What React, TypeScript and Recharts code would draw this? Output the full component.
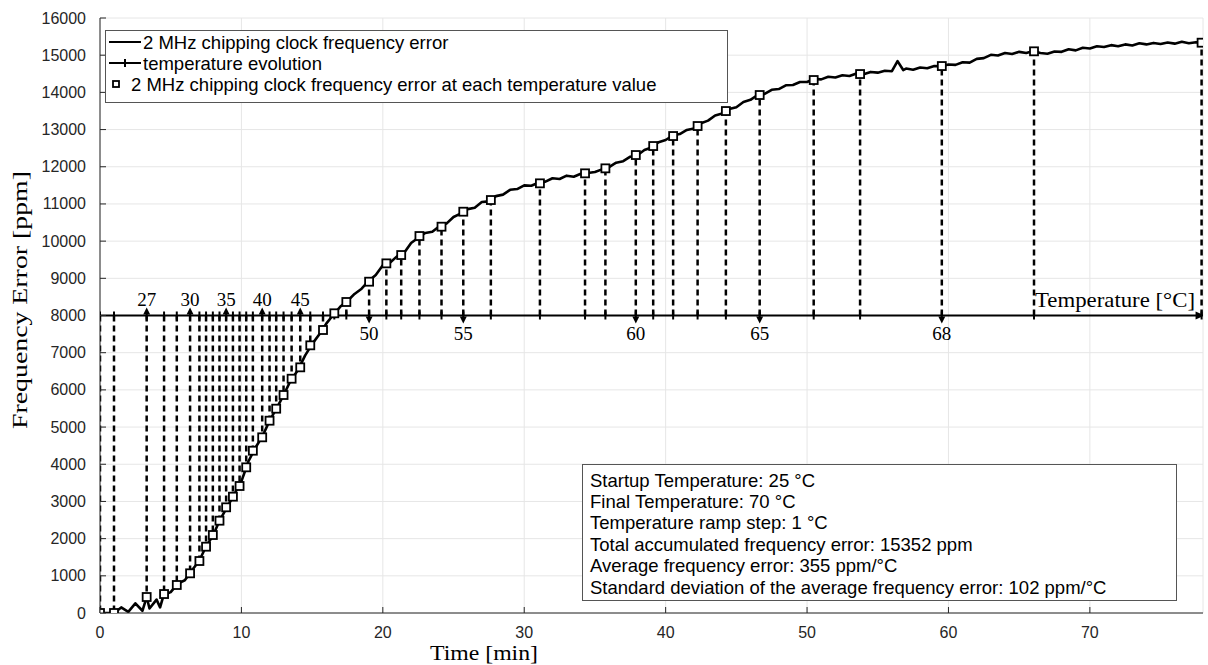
import React from "react";
import { ComposedChart, Line, Scatter, XAxis, YAxis, CartesianGrid } from "recharts";

// frequency error trace (min, ppm)
const timeMin = [
  0, 0.5, 1, 1.5, 2, 2.5, 3, 3.3, 3.5, 4, 4.25, 4.5, 5, 5.5, 6, 6.5, 7, 7.5, 8, 8.5, 9, 9.5,
  10, 10.5, 11, 11.5, 12, 12.5, 13, 13.5, 14, 14.5, 15, 15.5, 16, 16.5, 17, 17.5, 18, 18.5, 19, 19.5,
  20, 20.5, 21, 21.5, 22, 22.5, 23, 23.5, 24, 24.5, 25, 25.5, 26, 26.5, 27, 27.5, 28, 28.5, 29, 29.5,
  30, 30.5, 31, 31.5, 32, 32.5, 33, 33.5, 34, 34.5, 35, 35.5, 36, 36.5, 37, 37.5, 38, 38.5, 39, 39.5,
  40, 40.5, 41, 41.5, 42, 42.5, 43, 43.5, 44, 44.5, 45, 45.5, 46, 46.5, 47, 47.5, 48, 48.5, 49, 49.5,
  50, 50.5, 51, 51.5, 52, 52.5, 53, 53.5, 54, 54.5, 55, 55.5, 56, 56.4, 56.8, 57, 57.5, 58, 58.5, 59, 59.5,
  60, 60.5, 61, 61.5, 62, 62.5, 63, 63.5, 64, 64.5, 65, 65.5, 66, 66.5, 67, 67.5, 68, 68.5, 69, 69.5,
  70, 70.5, 71, 71.5, 72, 72.5, 73, 73.5, 74, 74.5, 75, 75.5, 76, 76.5, 77, 77.5, 78,
];
const freqPpm = [
  0, 0, 0, 150, 30, 260, 60, 430, 120, 360, 150, 480, 560, 790, 880, 1150, 1390, 1790, 2090, 2520, 2850, 3200,
  3540, 4080, 4450, 4760, 5180, 5510, 5870, 6270, 6530, 6920, 7230, 7490, 7780, 8020, 8240, 8390, 8580, 8720, 8930, 9090,
  9350, 9420, 9590, 9680, 9950, 10090, 10220, 10250, 10400, 10470, 10650, 10740, 10860, 10900, 11050, 11070, 11210, 11250, 11380, 11400,
  11500, 11490, 11570, 11600, 11690, 11670, 11760, 11730, 11810, 11830, 11860, 11930, 11990, 12110, 12150, 12270, 12310, 12450, 12520, 12660,
  12720, 12840, 12880, 12990, 13030, 13170, 13240, 13380, 13430, 13550, 13600, 13740, 13800, 13930, 13960, 14070, 14090, 14190, 14200, 14280,
  14280, 14360, 14350, 14420, 14400, 14460, 14440, 14510, 14490, 14550, 14530, 14580, 14570, 14840, 14600, 14640, 14610, 14670, 14650, 14710, 14700,
  14750, 14740, 14810, 14800, 14900, 14920, 15010, 14990, 15060, 15030, 15090, 15060, 15110, 15060, 15040, 15100, 15090, 15160, 15130, 15200,
  15180, 15240, 15220, 15270, 15240, 15290, 15260, 15320, 15290, 15330, 15300, 15340, 15310, 15360, 15320, 15350, 15330,
];

// temperature steps: when each one was reached and the error at that moment
const tempC = [
  25, 26, 27, 28, 29, 30, 31, 32, 33, 34, 35, 36, 37, 38, 39, 40, 41, 42, 43, 44, 45, 46, 47,
  48, 49, 50, 51, 52, 53, 54, 55, 56, 57, 58, 59, 60, 61, 62, 63, 64, 65, 66, 67, 68, 69, 70,
];
const tempTimeMin = [
  0, 0.99, 3.3, 4.53, 5.43, 6.37, 7.03, 7.5, 7.98, 8.45, 8.92, 9.4, 9.87, 10.34, 10.81, 11.47, 11.99, 12.46, 12.98, 13.55, 14.16, 14.87, 15.77,
  16.57, 17.42, 19.03, 20.25, 21.3, 22.59, 24.15, 25.69, 27.64, 31.11, 34.3, 35.74, 37.89, 39.12, 40.53, 42.26, 44.26, 46.65, 50.47, 53.75, 59.53, 66.05, 77.9,
];
const tempFreqPpm = [
  0, 0, 430, 510, 753, 1067, 1398, 1783, 2097, 2482, 2842, 3128, 3415, 3917, 4364, 4724, 5171, 5494, 5862, 6300, 6606, 7198, 7610,
  8059, 8363, 8909, 9402, 9626, 10137, 10388, 10791, 11105, 11554, 11823, 11957, 12315, 12557, 12826, 13095, 13498, 13929, 14332, 14493, 14708, 15104, 15336,
];
const labelsAbove = [27, 30, 35, 40, 45];
const labelsBelow = [50, 55, 60, 65, 68];
const tempAxisLevel = 8000;

const xTicks = [0, 10, 20, 30, 40, 50, 60, 70];
const yTicks = [0, 1000, 2000, 3000, 4000, 5000, 6000, 7000, 8000, 9000, 10000, 11000, 12000, 13000, 14000, 15000, 16000];

const legendItems = [
  "2 MHz chipping clock frequency error",
  "temperature evolution",
  "2 MHz chipping clock frequency error at each temperature value",
];
const statsLines = [
  "Startup Temperature: 25 °C",
  "Final Temperature: 70 °C",
  "Temperature ramp step: 1 °C",
  "Total accumulated frequency error: 15352 ppm",
  "Average frequency error: 355 ppm/°C",
  "Standard deviation of the average frequency error: 102 ppm/°C",
];

const curveData = timeMin.map((t, i) => ({ x: t, y: freqPpm[i] }));
const tempRows = tempTimeMin.map((t, i) => ({ x: t, y: tempAxisLevel, temp: tempC[i] }));
const squareRows = tempTimeMin.map((t, i) => ({ x: t, y: tempFreqPpm[i] }));

const AX = "#262626";
const SANS = "'Liberation Sans', Arial, sans-serif";
const SERIF = "'Liberation Serif', 'Times New Roman', serif";

function LeftTick({ x, y, payload }: any) {
  return (
    <g>
      <line x1={x} x2={x + 6} y1={y} y2={y} stroke={AX} />
      <text x={x - 14} y={y + 5.5} textAnchor="end" fontFamily={SANS} fontSize={16} fill={AX}>
        {payload.value}
      </text>
    </g>
  );
}

function RightTick({ x, y }: any) {
  return <line x1={x} x2={x - 6} y1={y} y2={y} stroke={AX} />;
}

function BottomTick({ x, y, payload }: any) {
  return (
    <g>
      <line x1={x} x2={x} y1={y} y2={y - 6} stroke={AX} />
      <text x={x} y={y + 25} textAnchor="middle" fontFamily={SANS} fontSize={16} fill={AX}>
        {payload.value}
      </text>
    </g>
  );
}

function TopTick({ x, y }: any) {
  return <line x1={x} x2={x} y1={y} y2={y + 6} stroke={AX} />;
}

function TempMark(props: any) {
  const { cx, cy, payload, index } = props;
  if (cx == null || cy == null) return <g key={`tm-${index}`} />;
  const t = payload.temp;
  const last = index === tempC.length - 1;
  return (
    <g key={`tm-${index}`}>
      <line x1={cx} x2={cx} y1={cy - 4} y2={cy + 4} stroke="#000" strokeWidth={2} />
      {labelsAbove.includes(t) && (
        <>
          <path d={`M${cx - 3.5},${cy - 1} L${cx + 3.5},${cy - 1} L${cx},${cy - 8} Z`} fill="#000" />
          <text x={cx} y={cy - 10} textAnchor="middle" fontFamily={SERIF} fontSize={19}>
            {t}
          </text>
        </>
      )}
      {labelsBelow.includes(t) && (
        <>
          <path d={`M${cx - 3.5},${cy + 1} L${cx + 3.5},${cy + 1} L${cx},${cy + 8} Z`} fill="#000" />
          <text x={cx} y={cy + 24} textAnchor="middle" fontFamily={SERIF} fontSize={19}>
            {t}
          </text>
        </>
      )}
      {last && <path d={`M${cx + 3},${cy} L${cx - 6},${cy - 4} L${cx - 6},${cy + 4} Z`} fill="#000" />}
    </g>
  );
}

function Square({ cx, cy }: any) {
  if (cx == null || cy == null) return <g />;
  return <rect x={cx - 4} y={cy - 4} width={8} height={8} fill="#fff" stroke="#000" strokeWidth={1.8} />;
}

function Overlay() {
  return (
    <svg width={1208} height={665} style={{ position: "absolute", left: 0, top: 0, pointerEvents: "none" }}>
      {/* legend */}
      <rect x={105.5} y={30.5} width={622} height={72} fill="#fff" stroke="#555" strokeWidth={1} />
      <line x1={109} x2={141} y1={42} y2={42} stroke="#000" strokeWidth={2} />
      <line x1={109} x2={141} y1={63} y2={63} stroke="#000" strokeWidth={2} />
      <line x1={125} x2={125} y1={59} y2={67} stroke="#000" strokeWidth={2} />
      <rect x={113} y={81} width={6} height={6} fill="#fff" stroke="#000" strokeWidth={1.8} />
      {legendItems.map((s, i) => (
        <text key={s} x={i === 2 ? 131 : 143} y={48.5 + i * 21} fontFamily={SANS} fontSize={18.5} fill="#000">
          {s}
        </text>
      ))}
      {/* stats box */}
      <rect x={582.5} y={464.5} width={594} height={136} fill="#fff" stroke="#555" strokeWidth={1} />
      {statsLines.map((s, i) => (
        <text key={s} x={590} y={486.5 + i * 21.4} fontFamily={SANS} fontSize={18.5} fill="#000">
          {s}
        </text>
      ))}
      <text x={1035} y={307} fontFamily={SERIF} fontSize={21} textLength={160} lengthAdjust="spacingAndGlyphs">
        Temperature [°C]
      </text>
      <text x={430} y={660} fontFamily={SERIF} fontSize={21} textLength={108} lengthAdjust="spacingAndGlyphs">
        Time [min]
      </text>
      <text
        transform="translate(27,429) rotate(-90)"
        x={0}
        y={0}
        fontFamily={SERIF}
        fontSize={21}
        textLength={258}
        lengthAdjust="spacingAndGlyphs"
      >
        Frequency Error [ppm]
      </text>
    </svg>
  );
}

export default function App() {
  return (
    <div style={{ position: "absolute", left: 0, top: 0, width: 1208, height: 665, background: "#fff" }}>
      <ComposedChart width={1208} height={665} margin={{ top: 18, right: 5, bottom: 0, left: 0 }}>
        <CartesianGrid stroke="#e6e6e6" strokeWidth={1} />
        <XAxis
          type="number"
          dataKey="x"
          domain={[0, 78]}
          ticks={xTicks}
          allowDataOverflow
          height={52}
          tickSize={0}
          tickMargin={0}
          tickLine={false}
          axisLine={{ stroke: AX }}
          tick={<BottomTick />}
        />
        <XAxis
          xAxisId="top"
          orientation="top"
          type="number"
          dataKey="x"
          domain={[0, 78]}
          ticks={xTicks}
          allowDataOverflow
          height={0}
          tickSize={0}
          tickMargin={0}
          tickLine={false}
          axisLine={{ stroke: AX }}
          tick={<TopTick />}
        />
        <YAxis
          type="number"
          domain={[0, 16000]}
          ticks={yTicks}
          allowDataOverflow
          width={100}
          tickSize={0}
          tickMargin={0}
          tickLine={false}
          axisLine={{ stroke: AX }}
          tick={<LeftTick />}
        />
        <YAxis
          yAxisId="right"
          orientation="right"
          type="number"
          domain={[0, 16000]}
          ticks={yTicks}
          allowDataOverflow
          width={0}
          tickSize={0}
          tickMargin={0}
          tickLine={false}
          axisLine={{ stroke: AX }}
          tick={<RightTick />}
        />
        {squareRows.map((r, i) => (
          <Line
            key={`drop-${i}`}
            data={[
              { x: r.x, y: tempAxisLevel },
              { x: r.x, y: r.y },
            ]}
            dataKey="y"
            stroke="#000"
            strokeWidth={2.5}
            strokeDasharray="6 4"
            dot={false}
            activeDot={false}
            isAnimationActive={false}
          />
        ))}
        <Line
          data={tempRows}
          dataKey="y"
          stroke="#000"
          strokeWidth={2}
          dot={(p: any) => <TempMark {...p} key={`tm-${p.index}`} />}
          activeDot={false}
          isAnimationActive={false}
        />
        <Line
          data={curveData}
          dataKey="y"
          stroke="#000"
          strokeWidth={2.6}
          strokeLinejoin="round"
          dot={false}
          activeDot={false}
          isAnimationActive={false}
        />
        <Scatter data={squareRows} dataKey="y" shape={<Square />} isAnimationActive={false} />
      </ComposedChart>
      <Overlay />
    </div>
  );
}
